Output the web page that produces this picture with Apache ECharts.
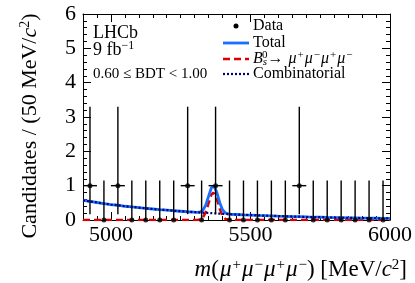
<!DOCTYPE html>
<html><head><meta charset="utf-8">
<script src="https://cdn.jsdelivr.net/npm/echarts@6/dist/echarts.min.js"></script>
<style>html,body{margin:0;padding:0;background:#fff}#c{width:415px;height:283px}</style>
</head><body><div id="c"></div>
<script>
// ---- data ----
const binCenters = [4925,4975,5025,5075,5125,5175,5225,5275,5325,5375,5425,5475,5525,5575,5625,5675,5725,5775,5825,5875,5925,5975];
const counts     = [1,0,1,0,0,0,0,1,0,1,0,0,0,0,0,1,0,0,0,0,0,0];
const errLow     = [0.83,0,0.83,0,0,0,0,0.83,0,0.83,0,0,0,0,0,0.83,0,0,0,0,0,0];
const errHigh    = [2.30,1.15,2.30,1.15,1.15,1.15,1.15,2.30,1.15,2.30,1.15,1.15,1.15,1.15,1.15,2.30,1.15,1.15,1.15,1.15,1.15,1.15];
const binHalfWidth = 25;

const modelMass = [4900,4925,4950,4975,5000,5025,5050,5075,5100,5125,5150,5175,5200,5225,5250,5275,5300,5310,5320,5330,5340,5350,5360,5367,5370,5380,5390,5400,5410,5420,5430,5450,5475,5500,5525,5550,5575,5600,5625,5650,5675,5700,5725,5750,5775,5800,5825,5850,5875,5900,5925,5950,5975,6000];
const combValues = [0.57,0.54,0.51,0.48,0.45,0.43,0.40,0.38,0.36,0.34,0.32,0.30,0.29,0.27,0.255,0.24,0.227,0.222,0.217,0.212,0.207,0.203,0.198,0.195,0.193,0.189,0.185,0.18,0.176,0.172,0.168,0.16,0.15,0.143,0.135,0.128,0.121,0.114,0.108,0.101,0.096,0.09,0.085,0.081,0.076,0.072,0.068,0.064,0.061,0.057,0.054,0.051,0.048,0.045];
const signalValues = [0,0,0,0,0,0,0,0,0,0,0,0,0,0,0,0,0,0.003,0.018,0.075,0.23,0.49,0.74,0.80,0.79,0.60,0.32,0.12,0.033,0.006,0,0,0,0,0,0,0,0,0,0,0,0,0,0,0,0,0,0,0,0,0,0,0,0];

const xMajorTicks = [5000,5500,6000];

// ---- build ----
const FONT = '"Liberation Serif","Times New Roman",serif';
const totalValues = combValues.map((v,i)=>v+signalValues[i]);
const pairs = (ys)=>modelMass.map((m,i)=>[m, ys[i]]);
const pointData = binCenters.map((x,i)=>[x, counts[i]]);
const errData = binCenters.map((x,i)=>[x, counts[i], errLow[i], errHigh[i], binHalfWidth]);

function richSet(size, supSize, lh, kern){
  return {
    n:{fontSize:size, fontFamily:FONT, color:'#000', lineHeight:lh},
    i:{fontSize:size, fontFamily:FONT, fontStyle:'italic', color:'#000', lineHeight:lh},
    mu:{fontSize:size, fontFamily:FONT, fontStyle:'italic', color:'#000', lineHeight:lh, padding:[0,1,0,1]},
    sup:{fontSize:supSize, fontFamily:FONT, color:'#000', verticalAlign:'top', lineHeight:supSize},
    isub:{fontSize:supSize, fontFamily:FONT, fontStyle:'italic', color:'#000', verticalAlign:'bottom', lineHeight:supSize},
    supk:{fontSize:supSize, fontFamily:FONT, color:'#000', verticalAlign:'top', lineHeight:supSize, padding:[0,0,0,kern||-5]}
  };
}

const chart = echarts.init(document.getElementById('c'), null, {renderer:'canvas'});

const baseX = {type:'value', min:4900, max:6000, splitLine:{show:false}};
const axisLineStyle = {show:true, lineStyle:{color:'#000', width:1}};
const option = {
  animation:false,
  backgroundColor:'#fff',
  grid:{left:83, right:24, top:14, bottom:63},
  xAxis:[
    Object.assign({}, baseX, {position:'bottom', interval:50, axisLine:axisLineStyle,
      axisTick:{show:true, inside:true, length:4, lineStyle:{color:'#000'}},
      axisLabel:{show:true, customValues:xMajorTicks, formatter:(v)=>String(v), color:'#000', fontFamily:FONT, fontSize:22, margin:4}}),
    Object.assign({}, baseX, {position:'bottom', interval:50, axisLine:{show:false},
      axisTick:{show:true, inside:true, length:8, customValues:xMajorTicks, lineStyle:{color:'#000'}},
      axisLabel:{show:false}}),
    Object.assign({}, baseX, {position:'top', interval:50, axisLine:axisLineStyle,
      axisTick:{show:true, inside:true, length:4, lineStyle:{color:'#000'}}, axisLabel:{show:false}}),
    Object.assign({}, baseX, {position:'top', interval:50, axisLine:{show:false},
      axisTick:{show:true, inside:true, length:8, customValues:xMajorTicks, lineStyle:{color:'#000'}}, axisLabel:{show:false}})
  ],
  yAxis:[
    {type:'value', min:0, max:6, interval:1, position:'left', splitLine:{show:false}, axisLine:axisLineStyle,
      axisTick:{show:true, inside:true, length:8, lineStyle:{color:'#000'}},
      minorTick:{show:true, splitNumber:5, length:4, lineStyle:{color:'#000'}},
      axisLabel:{color:'#000', fontFamily:FONT, fontSize:22, margin:7}},
    {type:'value', min:0, max:6, interval:1, position:'right', splitLine:{show:false}, axisLine:axisLineStyle,
      axisTick:{show:true, inside:true, length:8, lineStyle:{color:'#000'}},
      minorTick:{show:true, splitNumber:5, length:4, lineStyle:{color:'#000'}},
      axisLabel:{show:false}}
  ],
  series:[
    {name:'signal', type:'line', data:pairs(signalValues), symbol:'none', z:2,
      lineStyle:{color:'#dd0000', width:2.5, type:[7,4]}},
    {name:'Total', type:'line', data:pairs(totalValues), symbol:'none', z:3,
      lineStyle:{color:'#1a6fff', width:2.8}},
    {name:'Combinatorial', type:'line', data:pairs(combValues), symbol:'none', z:4,
      lineStyle:{color:'#00007f', width:2.2, type:[2,2]}},
    {name:'errors', type:'custom', z:5, data:errData,
      renderItem:function(params, api){
        const x = api.value(0), y = api.value(1), lo = api.value(2), hi = api.value(3), hw = api.value(4);
        const p1 = api.coord([x, y-lo]), p2 = api.coord([x, y+hi]);
        const children = [{type:'line', shape:{x1:p1[0], y1:p1[1], x2:p2[0], y2:p2[1]}, style:{stroke:'#000', lineWidth:1.4}}];
        if (y > 0) {
          const a = api.coord([x-hw, y]), b = api.coord([x+hw, y]);
          children.push({type:'line', shape:{x1:a[0], y1:a[1], x2:b[0], y2:b[1]}, style:{stroke:'#000', lineWidth:1.4}});
        }
        return {type:'group', children:children};
      }},
    {name:'Data', type:'scatter', data:pointData, symbol:'circle', symbolSize:5, z:6,
      itemStyle:{color:'#000'}}
  ],
  graphic:[
    {type:'text', x:93, y:33, style:{text:'{n|LHCb}', verticalAlign:'middle', rich:richSet(18,12,20)}},
    {type:'text', x:93, y:50, style:{text:'{n|9 fb}{sup|−1}', verticalAlign:'middle', rich:richSet(18,12,20)}},
    {type:'text', x:93, y:74, style:{text:'{n|0.60 ≤ BDT < 1.00}', verticalAlign:'middle', rich:richSet(15,10,17)}},
    // legend
    {type:'circle', shape:{cx:236, cy:26, r:2.5}, style:{fill:'#000'}},
    {type:'text', x:253, y:26, style:{text:'{n|Data}', verticalAlign:'middle', rich:richSet(16,11,18)}},
    {type:'line', shape:{x1:223, y1:43, x2:249, y2:43}, style:{stroke:'#1a6fff', lineWidth:2.8}},
    {type:'text', x:253, y:43, style:{text:'{n|Total}', verticalAlign:'middle', rich:richSet(16,11,18)}},
    {type:'line', shape:{x1:223, y1:59, x2:249, y2:59}, style:{stroke:'#dd0000', lineWidth:2.5, lineDash:[7,4]}},
    {type:'text', x:253, y:59, style:{text:'{i|B}{isub|s}{supk|0}{n|→ }{mu|μ}{sup|+}{mu|μ}{sup|−}{mu|μ}{sup|+}{mu|μ}{sup|−}', verticalAlign:'middle', rich:richSet(16,11,18)}},
    {type:'line', shape:{x1:223, y1:74, x2:249, y2:74}, style:{stroke:'#00007f', lineWidth:2.2, lineDash:[2,2]}},
    {type:'text', x:253, y:74, style:{text:'{n|Combinatorial}', verticalAlign:'middle', rich:richSet(16,11,18)}},
    // axis titles
    {type:'text', x:407, y:270, style:{text:'{i|m}{n|(}{mu|μ}{sup|+}{mu|μ}{sup|−}{mu|μ}{sup|+}{mu|μ}{sup|−}{n|) [MeV/}{i|c}{sup|2}{n|]}', align:'right', verticalAlign:'middle', rich:richSet(23,15,25)}},
    {type:'text', x:30, y:126, rotation:Math.PI/2, style:{text:'{n|Candidates / (50 MeV/}{i|c}{sup|2}{n|)}', align:'center', verticalAlign:'middle', rich:richSet(22,14,24)}}
  ]
};
chart.setOption(option);
</script></body></html>
